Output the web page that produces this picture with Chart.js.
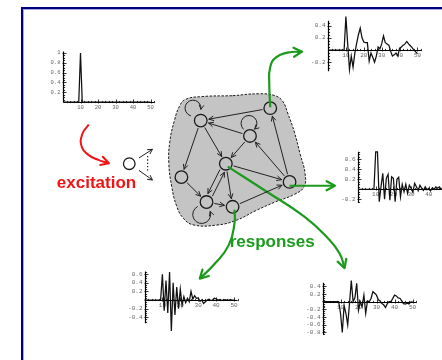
<!DOCTYPE html>
<html>
<head>
<meta charset="utf-8">
<script src="https://cdn.jsdelivr.net/npm/chart.js@4.4.1/dist/chart.umd.min.js"></script>
<style>
  html, body { margin: 0; padding: 0; background: #fff; }
  body { width: 442px; height: 360px; position: relative; overflow: hidden; }
  canvas { position: absolute; }
  .rule { position: absolute; }
</style>
</head>
<body>
<div class="rule" style="left:21px;top:7px;width:430px;height:360px;border-left:2px solid #00007c;border-top:2px solid #00007c;"></div>
<div class="rule" style="left:23px;top:9px;width:430px;height:360px;border-left:1px solid #a9a9e2;border-top:1px solid #a9a9e2;"></div>
<script>
// ---------- time axis and traces (samples at t = 0..50) ----------
const timeSteps = [0,1,2,3,4,5,6,7,8,9,10,11,12,13,14,15,16,17,18,19,20,21,22,23,24,25,
  26,27,28,29,30,31,32,33,34,35,36,37,38,39,40,41,42,43,44,45,46,47,48,49,50];

const excitationPulse = [0,0,0,0,0,0,0,0,0,0, 1,0,0,0,0,0,0,0,0,0,
  0,0,0,0,0,0,0,0,0,0, 0,0,0,0,0,0,0,0,0,0, 0,0,0,0,0,0,0,0,0,0, 0];

const responseTop = [0,0,0,0,0,0,0,0,0,0,
  0.55,0.1,-0.32,-0.1,-0.28,-0.05,0.11,0.25,0.36,0.2,
  0.13,0.12,0.12,-0.18,-0.05,-0.12,-0.2,-0.1,0.05,0.02,
  0.1,0.23,0.12,0.1,0.08,-0.02,-0.1,-0.08,-0.05,-0.1,
  0.03,0.05,0.08,0.1,0.14,0.1,0.07,0.04,0.0,-0.03,-0.06];

const responseMid = [0,0,0,0,0,0,0,0,0,0,
  0.75,0.75,-0.25,0.05,0.32,-0.2,0.22,0.3,-0.22,0.25,
  0.22,-0.25,0.2,0.24,-0.15,0.1,-0.05,0.1,-0.08,0.08,
  0.02,-0.06,0.12,0.05,-0.03,0.08,0.02,-0.02,0.05,-0.01,
  0.02,-0.03,0.03,0.0,0.05,0.02,0.05,0.0,0.03,0.01,0.02];

const responseLeft = [0,0,0,0,0,0,0,0,0,0,
  0.6,-0.25,0.45,-0.3,0.65,-0.72,0.4,-0.35,0.3,-0.2,
  0.25,-0.12,0.08,-0.06,0.04,-0.04,0.2,0.02,0.1,0.04,
  0.05,-0.03,0.0,-0.08,-0.04,0.0,0.02,-0.01,0.0,0.04,
  0.03,0.0,0.01,-0.01,0.0,0.01,0.0,0.0,0.01,0.0,0.0];

const responseRight = [0,0,0,0,0,0,0,0,0,0,
  -0.3,-0.8,-0.1,-0.3,-0.6,-0.05,0.55,0.0,0.1,0.48,
  -0.22,0.0,-0.13,0.17,-0.3,0.02,0.0,0.09,0.26,0.22,
  0.17,0.05,0.02,-0.05,-0.08,-0.15,-0.05,0.0,0.0,0.08,
  0.17,0.15,0.1,0.09,0.02,-0.05,-0.06,-0.04,-0.06,-0.01,0.0];

const xTickLabels = [10, 20, 30, 40, 50];
const yTicksPulse = [0.2, 0.4, 0.6, 0.8, 1];
const yTicksTop = [-0.2, 0.2, 0.4];
const yTicksMid = [-0.2, 0.2, 0.4, 0.6];
const yTicksLeft = [-0.4, -0.2, 0.2, 0.4, 0.6];
const yTicksRight = [-0.8, -0.6, -0.4, -0.2, 0.2, 0.4];

// ---------- network diagram ----------
const nodeX = [200, 272, 251, 226, 180, 292, 206, 233];
const nodeY = [118, 105, 134, 163, 177, 182, 203, 208];
const edges = [[1,0],[0,3],[0,4],[2,0],[2,3],[3,5],[3,7],[6,3],[3,6],[4,6],[6,7],[7,5],[5,1],[5,2]];
// self loops: centre x, centre y, radius, start angle, end angle (deg), anticlockwise
const selfLoops = [[192,105,8,108,368,false],[250,121,8,135,405,false],[201,216,9,-119,-19,true]];

const blobX = [233,260,277,285,290,297,303,308,307,297,277,257,237,217,193,182,175,170,167,168,173,178,184,200,233];
const blobY = [92,90,92,98,110,130,153,173,187,195,203,212,222,227,227,220,207,187,163,140,117,103,96,93,92];

const inputX = [126], inputY = [163];
const fanUpX = [136,150], fanUpY = [157,148];
const fanDownX = [136,150], fanDownY = [170,180];
const fanDotsX = [145,145], fanDotsY = [155,172];

const excitePathX = [84,77,77,84,94,105];
const excitePathY = [122,133,146,154,159,162.5];
const outTopX = [272,271,272,278,290,305];
const outTopY = [104,80,62,52,47,46];
const outMidX = [292,339];
const outMidY = [186,186];
const outLeftX = [235,235,229,214,199];
const outLeftY = [211,225,248,268,283];
const outRightX = [228,268,307,332,344,349];
const outRightY = [166,192,218,241,257,272];

const RED = '#f01414';
const GREEN = '#1c9a1c';
const NODE_R = 6.3;

const pts = (xs, ys) => xs.map((v, i) => ({x: v, y: ys[i]}));

function arrowHead(ctx, tx, ty, ux, uy, len, spread) {
  const a = Math.atan2(uy, ux);
  ctx.beginPath();
  ctx.moveTo(tx - len * Math.cos(a - spread), ty - len * Math.sin(a - spread));
  ctx.lineTo(tx, ty);
  ctx.lineTo(tx - len * Math.cos(a + spread), ty - len * Math.sin(a + spread));
  ctx.stroke();
}

const networkDecor = {
  id: 'networkDecor',
  afterDatasetsDraw(chart) {
    const {ctx, scales: {x, y}} = chart;
    const P = (vx, vy) => [x.getPixelForValue(vx), y.getPixelForValue(vy)];
    ctx.save();
    ctx.lineCap = 'round';
    ctx.lineJoin = 'round';
    // arrowheads on the curved / straight datasets
    chart.data.datasets.forEach((ds, i) => {
      if (!ds.arrowHead) return;
      const meta = chart.getDatasetMeta(i);
      const last = meta.data[meta.data.length - 1];
      const prev = meta.data[meta.data.length - 2];
      const useCp = last.cp1x !== undefined && Math.hypot(last.cp1x - last.x, last.cp1y - last.y) > 0.5;
      const bx = useCp ? last.cp1x : prev.x;
      const by = useCp ? last.cp1y : prev.y;
      const d = Math.hypot(last.x - bx, last.y - by);
      ctx.strokeStyle = ds.borderColor;
      ctx.lineWidth = ds.borderWidth;
      arrowHead(ctx, last.x, last.y, (last.x - bx) / d, (last.y - by) / d, ds.arrowHead, 0.5);
    });
    // edges between nodes
    ctx.strokeStyle = '#222';
    ctx.lineWidth = 1;
    edges.forEach(([a, b]) => {
      const [x1, y1] = P(nodeX[a], nodeY[a]);
      const [x2, y2] = P(nodeX[b], nodeY[b]);
      const len = Math.hypot(x2 - x1, y2 - y1);
      const ux = (x2 - x1) / len, uy = (y2 - y1) / len;
      const twin = edges.some(([c, e]) => c === b && e === a);
      const off = twin ? 2.6 : 0;
      const nx = -uy * off, ny = ux * off;
      const sx = x1 + ux * (NODE_R + 2) + nx, sy = y1 + uy * (NODE_R + 2) + ny;
      const ex = x2 - ux * (NODE_R + 2) + nx, ey = y2 - uy * (NODE_R + 2) + ny;
      ctx.beginPath();
      ctx.moveTo(sx, sy);
      ctx.lineTo(ex, ey);
      ctx.stroke();
      arrowHead(ctx, ex, ey, ux, uy, 5, 0.45);
    });
    // self loops
    selfLoops.forEach(([cx, cy, r, a0, a1, ccw]) => {
      const [px, py] = P(cx, cy);
      const s = a0 * Math.PI / 180, e = a1 * Math.PI / 180;
      ctx.beginPath();
      ctx.arc(px, py, r, s, e, ccw);
      ctx.stroke();
      const tx = px + r * Math.cos(e), ty = py + r * Math.sin(e);
      const ux = ccw ? Math.sin(e) : -Math.sin(e);
      const uy = ccw ? -Math.cos(e) : Math.cos(e);
      arrowHead(ctx, tx, ty, ux, uy, 4.5, 0.5);
    });
    // labels
    ctx.font = 'bold 17px "Liberation Sans", Arial, sans-serif';
    ctx.textBaseline = 'alphabetic';
    ctx.textAlign = 'left';
    ctx.fillStyle = RED;
    const [ex1, ey1] = P(51, 188);
    ctx.fillText('excitation', ex1, ey1);
    ctx.fillStyle = GREEN;
    const [rx1, ry1] = P(230, 250);
    ctx.fillText('responses', rx1, ry1);
    ctx.restore();
  }
};

const netCanvas = document.createElement('canvas');
netCanvas.width = 442; netCanvas.height = 360;
netCanvas.style.left = '0px'; netCanvas.style.top = '0px';
document.body.appendChild(netCanvas);

new Chart(netCanvas, {
  type: 'scatter',
  data: {
    datasets: [
      {data: pts(blobX, blobY), showLine: true, fill: 'shape', backgroundColor: '#c4c4c4',
       borderColor: '#1a1a1a', borderWidth: 1, borderDash: [2.5, 1.5], tension: 0.45, pointRadius: 0, order: 5},
      {data: pts(nodeX, nodeY), pointRadius: NODE_R, pointBorderWidth: 1.3, pointBorderColor: '#1a1a1a',
       pointBackgroundColor: '#c4c4c4', showLine: false, order: 1},
      {data: pts(inputX, inputY), pointRadius: 5.8, pointBorderWidth: 1.3, pointBorderColor: '#1a1a1a',
       pointBackgroundColor: '#fff', showLine: false, order: 1},
      {data: pts(fanUpX, fanUpY), showLine: true, borderColor: '#222', borderWidth: 1, pointRadius: 0, arrowHead: 5, order: 2},
      {data: pts(fanDownX, fanDownY), showLine: true, borderColor: '#222', borderWidth: 1, pointRadius: 0, arrowHead: 5, order: 2},
      {data: pts(fanDotsX, fanDotsY), showLine: true, borderColor: '#222', borderWidth: 1.2, borderDash: [1.3, 2], pointRadius: 0, order: 2},
      {data: pts(excitePathX, excitePathY), showLine: true, borderColor: RED, borderWidth: 2, tension: 0.5, pointRadius: 0, arrowHead: 9, order: 0},
      {data: pts(outTopX, outTopY), showLine: true, borderColor: GREEN, borderWidth: 2.2, tension: 0.5, pointRadius: 0, arrowHead: 9.5, order: 0},
      {data: pts(outMidX, outMidY), showLine: true, borderColor: GREEN, borderWidth: 2.2, pointRadius: 0, arrowHead: 9.5, order: 0},
      {data: pts(outLeftX, outLeftY), showLine: true, borderColor: GREEN, borderWidth: 2.2, tension: 0.5, pointRadius: 0, arrowHead: 9.5, order: 0},
      {data: pts(outRightX, outRightY), showLine: true, borderColor: GREEN, borderWidth: 2.2, tension: 0.5, pointRadius: 0, arrowHead: 9.5, order: 0}
    ]
  },
  options: {
    responsive: false, animation: false, devicePixelRatio: 1, events: [],
    layout: {padding: 0},
    plugins: {legend: {display: false}, tooltip: {enabled: false}},
    scales: {
      x: {type: 'linear', display: false, min: 0, max: 442},
      y: {type: 'linear', display: false, min: 0, max: 360, reverse: true}
    }
  },
  plugins: [networkDecor]
});

// ---------- small time-series plots with axes through the origin ----------
const fmt = v => String(Number(v.toFixed(2)));

const traceAxes = {
  id: 'traceAxes',
  beforeDatasetsDraw(chart, args, o) {
    const {ctx, scales: {x, y}} = chart;
    const x0 = Math.round(x.getPixelForValue(0)) + 0.5;
    const y0 = Math.round(y.getPixelForValue(0)) + 0.5;
    ctx.save();
    ctx.strokeStyle = '#000';
    ctx.lineWidth = 1.2;
    ctx.beginPath();
    ctx.moveTo(x0, y0);
    ctx.lineTo(x.getPixelForValue(o.xEnd), y0);
    ctx.moveTo(x0, y.getPixelForValue(o.ySpan[0]));
    ctx.lineTo(x0, y.getPixelForValue(o.ySpan[1]));
    ctx.stroke();
    ctx.lineWidth = 0.8;
    ctx.beginPath();
    for (let v = 2; v <= o.xEnd; v += 2) {
      const px = Math.round(x.getPixelForValue(v)) + 0.5;
      const major = xTickLabels.includes(v);
      ctx.moveTo(px, y0 - (major ? 3 : 1.6));
      ctx.lineTo(px, y0 + (major ? 1 : 0.6));
    }
    for (let k = Math.ceil(o.ySpan[0] / 0.05); k * 0.05 <= o.ySpan[1]; k++) {
      if (k === 0) continue;
      const py = Math.round(y.getPixelForValue(k * 0.05)) + 0.5;
      const major = k % 4 === 0;
      ctx.moveTo(x0 - (major ? 1 : 0.5), py);
      ctx.lineTo(x0 + (major ? 3 : 1.6), py);
    }
    ctx.stroke();
    ctx.fillStyle = '#666';
    ctx.font = o.fontSize + 'px "Liberation Mono", "DejaVu Sans Mono", monospace';
    ctx.textAlign = 'right';
    ctx.textBaseline = 'middle';
    o.yTicks.forEach(v => ctx.fillText(fmt(v), x0 - 3, y.getPixelForValue(v)));
    ctx.textAlign = 'center';
    ctx.textBaseline = 'top';
    xTickLabels.forEach(v => ctx.fillText(String(v), x.getPixelForValue(v), y0 + 2));
    ctx.restore();
  }
};

function tracePlot(rect, origin, unit, values, yTicks, ySpan, fontSize) {
  const [l, t, w, h] = rect;
  const [ox, oy] = origin;
  const [sx, sy] = unit;
  const cv = document.createElement('canvas');
  cv.width = w; cv.height = h;
  cv.style.left = l + 'px'; cv.style.top = t + 'px';
  document.body.appendChild(cv);
  new Chart(cv, {
    type: 'line',
    data: {datasets: [{data: timeSteps.map((s, i) => ({x: s, y: values[i]})),
      borderColor: '#111', borderWidth: 1.25, pointRadius: 0, tension: 0}]},
    options: {
      responsive: false, animation: false, devicePixelRatio: 1, events: [],
      layout: {padding: 0},
      plugins: {legend: {display: false}, tooltip: {enabled: false},
        traceAxes: {yTicks, ySpan, xEnd: 52, fontSize}},
      scales: {
        x: {type: 'linear', display: false, min: (l - ox) / sx, max: (l + w - ox) / sx},
        y: {type: 'linear', display: false, min: (oy - t - h) / sy, max: (oy - t) / sy}
      }
    },
    plugins: [traceAxes]
  });
}

tracePlot([34, 44, 128, 70], [63, 102], [1.75, 49], excitationPulse, yTicksPulse, [0, 1.03], 5.5);
tracePlot([298, 12, 144, 68], [328, 50], [1.79, 61], responseTop, yTicksTop, [-0.35, 0.48], 6);
tracePlot([328, 145, 114, 64], [358, 189.3], [1.77, 50], responseMid, yTicksMid, [-0.27, 0.75], 6);
tracePlot([108, 262, 138, 74], [144.5, 300], [1.79, 43], responseLeft, yTicksLeft, [-0.54, 0.66], 6);
tracePlot([288, 276, 142, 64], [322.5, 301.7], [1.8, 38.5], responseRight, yTicksRight, [-0.86, 0.49], 6);
</script>
</body>
</html>
